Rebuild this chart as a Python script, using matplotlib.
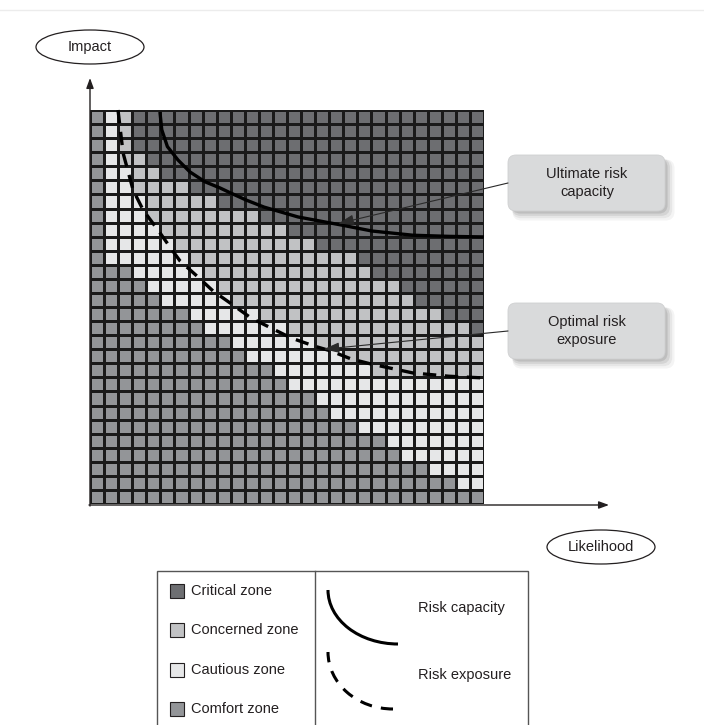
import numpy as np
import matplotlib.pyplot as plt
from matplotlib.colors import ListedColormap
from matplotlib.patches import Ellipse, FancyBboxPatch, Rectangle, Arc

plt.rcParams['font.family'] = ['Liberation Sans', 'DejaVu Sans']

# grid: 28 x 28 cells, rows listed from top to bottom
# first column of each zone per row (28 = zone absent in that row)
critical_start = [3, 3, 3, 4, 5, 7, 9, 12, 14, 16, 19, 20, 22, 23, 25, 27] + [28] * 12
concerned_start = [2, 2, 2, 2, 3, 3, 4, 4, 5, 6, 7, 8, 9, 10, 12, 14, 16, 18, 20] + [28] * 9
cautious_start = [1] * 11 + [3, 4, 5, 7, 8, 10, 11, 13, 14, 16, 17, 19, 21, 22, 24, 26, 28]

zone_names = ['Critical zone', 'Concerned zone', 'Cautious zone', 'Comfort zone']
zone_colors = ['#6d6e71', '#c1c2c4', '#e6e7e8', '#939598']

# curves in cell units (x = likelihood, y = impact)
cap_x = [4.97, 5.1, 5.5, 6.25, 7.1, 8.17, 9.24, 10.0, 11.1, 12.37, 14.78, 17.84, 20.04, 22.96, 25.5, 28.0]
cap_y = [27.86, 26.6, 25.4, 24.45, 23.6, 22.9, 22.46, 22.1, 21.6, 21.1, 20.4, 19.83, 19.4, 19.1, 19.02, 18.98]
exp_x = [1.99, 2.35, 3.06, 3.77, 4.98, 5.83, 6.40, 7.60, 8.74, 9.95, 11.44, 12.86, 14.29, 15.92, 17.13,
         18.55, 19.97, 22.96, 25.5, 27.93]
exp_y = [28.0, 24.95, 22.32, 20.9, 19.26, 18.05, 17.27, 16.2, 15.14, 14.29, 13.22, 12.51, 11.8, 11.23, 10.87,
         10.31, 9.95, 9.31, 9.08, 8.96]

n = 28
# zone code: 0 critical, 1 concerned, 2 cautious, 3 comfort
Z = np.full((n, n), 3)
for r in range(n):
    for c in range(n):
        if c >= critical_start[r]:
            Z[r, c] = 0
        elif c >= concerned_start[r]:
            Z[r, c] = 1
        elif c >= cautious_start[r]:
            Z[r, c] = 2
Z = Z[::-1]  # bottom row first for pcolormesh

W, H = 704, 725
fig = plt.figure(figsize=(W / 100, H / 100), dpi=100)

gx0, gy1, gs = 90, 504, 394
ax = fig.add_axes([gx0 / W, (H - gy1) / H, gs / W, gs / H])
ax.set_zorder(1)
ov = fig.add_axes([0, 0, 1, 1])
ov.set_zorder(2)
ov.set_xlim(0, W)
ov.set_ylim(H, 0)
ov.axis('off')

cmap = ListedColormap(zone_colors)
ax.pcolormesh(np.arange(n + 1), np.arange(n + 1), Z, cmap=cmap, vmin=-0.5, vmax=3.5,
              edgecolors='#1a1a1a', linewidth=0.8)
ax.plot(cap_x, cap_y, color='black', lw=2.4, solid_capstyle='butt', clip_on=False)
ax.plot(exp_x, exp_y, color='black', lw=2.4, dashes=(4, 2.6), clip_on=False)
ax.set_xlim(0, n)
ax.set_ylim(0, n)
ax.axis('off')

# faint top rule
ov.plot([0, W], [10, 10], color='#ececec', lw=1)

# axes arrows
ov.annotate('', xy=(90, 78), xytext=(90, 506),
            arrowprops=dict(arrowstyle='-|>,head_length=0.6,head_width=0.22', lw=1, color='#231f20',
                            shrinkA=0, shrinkB=0))
ov.annotate('', xy=(609, 505), xytext=(89, 505),
            arrowprops=dict(arrowstyle='-|>,head_length=0.6,head_width=0.22', lw=1, color='#231f20',
                            shrinkA=0, shrinkB=0))

# axis labels in ellipses
ov.add_patch(Ellipse((90, 47), 108, 34, facecolor='white', edgecolor='#231f20', lw=0.9))
ov.text(90, 47, 'Impact', ha='center', va='center', fontsize=10.5, color='#231f20')
ov.add_patch(Ellipse((601, 547), 108, 34, facecolor='white', edgecolor='#231f20', lw=0.9))
ov.text(601, 547, 'Likelihood', ha='center', va='center', fontsize=10.5, color='#231f20')


def callout(y0, label, target):
    for k, a in enumerate([0.06, 0.08, 0.11, 0.15]):
        off = 7 - k * 1.3
        ov.add_patch(FancyBboxPatch((508 + off, y0 + off), 157, 56,
                                    boxstyle='round,pad=%g,rounding_size=9' % (2.5 - k),
                                    facecolor='#444444', edgecolor='none', alpha=a))
    ov.add_patch(FancyBboxPatch((508, y0), 157, 56, boxstyle='round,pad=0,rounding_size=8',
                                facecolor='#d9dadb', edgecolor='#cfd0d1', lw=0.6))
    ov.text(587, y0 + 28, label, ha='center', va='center', fontsize=10.5, color='#231f20',
            linespacing=1.45)
    ov.annotate('', xy=target, xycoords=ax.transData, xytext=(508, y0 + 28), textcoords='data',
                arrowprops=dict(arrowstyle='-|>,head_length=0.6,head_width=0.2', lw=0.8,
                                color='#2a2a2a', mutation_scale=16, shrinkA=0, shrinkB=0))


callout(155, 'Ultimate risk\ncapacity', (cap_x[11] - 0.2, cap_y[11] + 0.1))
callout(303, 'Optimal risk\nexposure', (16.6, 11.0))

# legend table
ov.add_patch(Rectangle((157, 571), 371, 200, facecolor='white', edgecolor='#555555', lw=1,
                       clip_on=False))
ov.plot([315, 315], [571, 725], color='#555555', lw=1)
for i, (name, col) in enumerate(zip(zone_names, zone_colors)):
    yc = 591 + i * 39.3
    ov.add_patch(Rectangle((170, yc - 7), 14, 14, facecolor=col, edgecolor='#231f20', lw=0.8))
    ov.text(191, yc, name, ha='left', va='center', fontsize=10.5, color='#231f20')

ov.add_patch(Arc((398, 590), 140, 108, theta1=90, theta2=180, color='black', lw=2.2))
ov.add_patch(Arc((393, 652), 130, 114, theta1=90, theta2=180, color='black', lw=2.2,
                 linestyle=(0, (4, 3))))
ov.text(418, 608, 'Risk capacity', ha='left', va='center', fontsize=10.5, color='#231f20')
ov.text(418, 675, 'Risk exposure', ha='left', va='center', fontsize=10.5, color='#231f20')

fig.savefig('out.png', dpi=100, facecolor='white')
